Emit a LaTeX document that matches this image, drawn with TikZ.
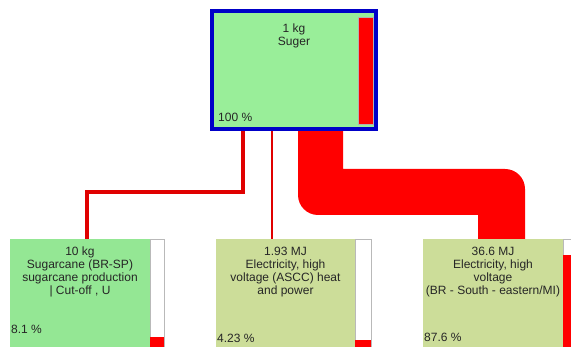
\documentclass[tikz,border=0pt]{standalone}
\usepackage{fontspec}
\setmainfont{Liberation Sans}
\usepackage{xcolor}
\usepackage{tikz}
\usetikzlibrary{positioning,
calc,
backgrounds}

\definecolor{refBlue}{RGB}{0,0,200}
\definecolor{refGreen}{RGB}{153,238,153}
\definecolor{refKhaki}{RGB}{204,221,153}
\definecolor{refRed}{RGB}{255,0,0}

\begin{document}
\begin{tikzpicture}[
    x=1pt,
    y=-1pt,
    font=\fontsize{12}{13}\selectfont,
    procBox/.style={
        inner sep=0pt,
        outer sep=0pt,
        minimum width=140pt,
        minimum height=120pt,
        anchor=north west,
        fill=refKhaki
    },
    refBox/.style={
        procBox,
        draw=refBlue,
        line width=4pt,
        fill=refGreen,
        anchor=center
    },
    shareBar/.style={
        inner sep=0pt,
        outer sep=0pt,
        minimum width=14pt,
        anchor=north west,
        fill=white,
        draw=gray!55,
        line width=0.6pt
    },
    shareFill/.style={
        shareBar,
        fill=refRed,
        draw=none
    },
    boxText/.style={
        inner sep=0pt,
        outer sep=0pt,
        align=center,
        text=black!85
    },
    shareText/.style={
        inner sep=0pt,
        anchor=base west,
        text=black!85
    },
    link/.style={
        draw=refRed!88!black,
        line width=4pt
    },
    thinLink/.style={
        link,
        line width=2.5pt
    },
    ribbon/.style={
        fill=refRed
    }
]

\clip (0,0) rectangle (571,347);

%------------------------------------------------------------------------------
% Reference product
%------------------------------------------------------------------------------

\node[refBox, minimum width=164pt, minimum height=118pt] (sugar) at (294,70) {};

\node[shareFill, anchor=north east, minimum width=15pt, minimum height=107pt,
      draw=gray!60, line width=0.6pt]
    (sugarBar) at ($(sugar.north east)+(-3,6)$) {};

\node[boxText, below=13pt of sugar.north] (sugarText) {1 kg\\Suger};

\node[shareText] (sugarShare) at ($(sugar.south west)+(6,-7)$) {100 \%};

%------------------------------------------------------------------------------
% Inputs
%------------------------------------------------------------------------------

\node[procBox, fill=refGreen!97!black] (cane) at (10,239) {};
\node[procBox, minimum width=139pt] (power) at (216,239) {};
\node[procBox] (grid) at (423,239) {};

\node[shareBar, minimum height=120pt] (caneBar) at (cane.north east) {};
\node[shareFill, minimum height=22pt] at ($(caneBar.north west)+(0,98)$) {};

\node[shareBar, minimum height=120pt, minimum width=16pt] (powerBar) at (power.north east) {};
\node[shareFill, minimum height=20pt, minimum width=16pt] at ($(powerBar.north west)+(0,101)$) {};

\node[shareBar, minimum height=120pt] (gridBar) at (grid.north east) {};
\node[shareFill, minimum height=110pt] at ($(gridBar.north west)+(0,16)$) {};

\node[boxText, below=8pt of cane.north] (caneText)
    {10 kg\\Sugarcane (BR-SP)\\sugarcane production\\| Cut-off , U};

\node[boxText, below=8pt of power.north] (powerText)
    {1.93 MJ\\Electricity, high\\voltage (ASCC) heat\\and power};

\node[boxText, below=8pt of grid.north] (gridText)
    {36.6 MJ\\Electricity, high\\voltage\\(BR - South - eastern/MI)};

\node[shareText] (caneShare) at ($(cane.north west)+(1,95)$) {8.1 \%};
\node[shareText] (powerShare) at ($(power.north west)+(1,104)$) {4.23 \%};
\node[shareText] (gridShare) at ($(grid.north west)+(1,103)$) {87.6 \%};

%------------------------------------------------------------------------------
% Flows, behind the boxes
%------------------------------------------------------------------------------

\coordinate (sugarOutCane) at ($(sugar.south west)+(31,0)$);
\coordinate (sugarOutPower) at ($(sugar.south west)+(60,0)$);
\coordinate (caneIn) at ($(cane.north west)+(77,0)$);

% the wide band: sharp inner corners, round outer corners
\coordinate (ribTopL) at ($(sugar.south west)+(86,-2)$);
\coordinate (ribTopR) at ($(sugar.south west)+(131,-2)$);
\coordinate (ribHigh) at ($(sugar.south)+(0,40)$);
\coordinate (ribLow) at ($(sugar.south)+(0,86)$);
\coordinate (gridInL) at ($(grid.north west)+(55,0)$);
\coordinate (gridInR) at ($(grid.north west)+(102,0)$);

\begin{scope}[on background layer]

    \draw[link] (sugarOutCane) -- ++(0,63) -| (caneIn);

    \draw[thinLink] (sugarOutPower) -- (sugarOutPower |- power.north);

    \fill[ribbon]
        (ribTopL) -- ($(ribTopL |- ribLow)+(0,-20)$)
        arc[start angle=180, end angle=90, radius=20]
        -- (gridInL |- ribLow) -- (gridInL) -- (gridInR)
        -- ($(gridInR |- ribHigh)+(0,20)$)
        arc[start angle=0, end angle=-90, radius=20]
        -- (ribTopR |- ribHigh) -- (ribTopR) -- cycle;

\end{scope}

\end{tikzpicture}
\end{document}
